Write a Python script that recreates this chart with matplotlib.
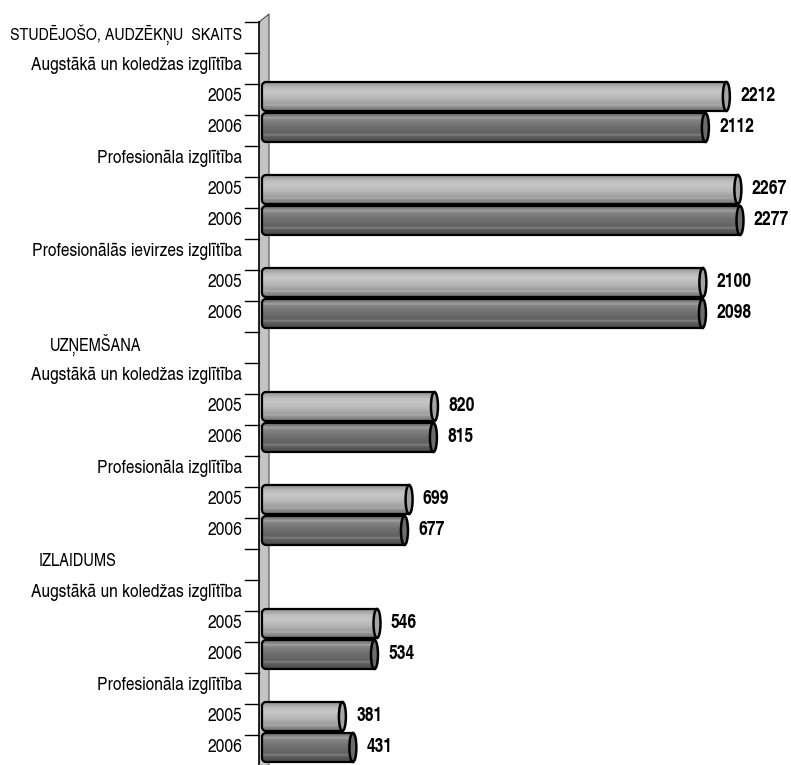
import numpy as np
import matplotlib.pyplot as plt
from matplotlib.patches import Polygon, Ellipse
from matplotlib.lines import Line2D
from matplotlib import transforms

# row labels (top to bottom) and values (None = header row without bar)
labels = ["STUDĒJOŠO, AUDZĒKŅU  SKAITS",
          "Augstākā un koledžas izglītība", "2005", "2006",
          "Profesionāla izglītība", "2005", "2006",
          "Profesionālās ievirzes izglītība", "2005", "2006",
          "UZŅEMŠANA",
          "Augstākā un koledžas izglītība", "2005", "2006",
          "Profesionāla izglītība", "2005", "2006",
          "IZLAIDUMS",
          "Augstākā un koledžas izglītība", "2005", "2006",
          "Profesionāla izglītība", "2005", "2006"]
values = [None,
          None, 2212, 2112,
          None, 2267, 2277,
          None, 2100, 2098,
          None,
          None, 820, 815,
          None, 699, 677,
          None,
          None, 546, 534,
          None, 381, 431]
# section headers: row -> left pixel position of the text
section_left = {10: 50, 17: 39}

FONT = ['TeX Gyre Heros Cn', 'DejaVu Sans']

W, H = 791, 765
fig = plt.figure(figsize=(W / 100, H / 100), dpi=100)
ax = fig.add_axes([259 / W, 0, (W - 259) / W, (765 - 22) / H])
ax.set_facecolor('none')
ax.axis('off')

ux = 1 / 0.2097          # data-x units per pixel
uy = 1 / 31              # rows per pixel


def grad(stops, n=80):
    pos = np.array([s[0] for s in stops])
    g = np.array([s[1] for s in stops])
    col = np.interp(np.linspace(0, 1, n), pos, g)
    return np.repeat(col[:, None, None], 3, axis=2) * np.ones((n, 2, 3))


light = grad([(0, .56), (0.08, .64), (0.2, .74), (0.35, .78), (0.55, .72),
              (0.75, .62), (0.8, .68), (0.84, .58), (1, .44)])
dark = grad([(0, .44), (0.1, .52), (0.16, .64), (0.22, .52), (0.45, .44),
             (0.7, .38), (0.76, .52), (0.8, .38), (1, .28)])

hh = 29 * uy
rx, ry = 4 * ux, 4 * uy
cw = 3.5 * ux
x0 = -4 * ux

for i, (lab, v) in enumerate(zip(labels, values)):
    if v is None:
        continue
    img, face = (light, '#a4a4a4') if lab == '2005' else (dark, '#6c6c6c')
    top, bot = i - hh / 2, i + hh / 2
    xc = v - cw
    pts = [(xc, top), (xc, bot)]
    for a in np.linspace(np.pi / 2, np.pi, 10):
        pts.append((x0 + rx + rx * np.cos(a), bot - ry + ry * np.sin(a)))
    for a in np.linspace(np.pi, 1.5 * np.pi, 10):
        pts.append((x0 + rx + rx * np.cos(a), top + ry + ry * np.sin(a)))
    body = Polygon(pts, closed=True, transform=ax.transData)
    im = ax.imshow(img, extent=(x0, xc, bot, top), aspect='auto',
                   interpolation='bilinear', zorder=2)
    im.set_clip_path(body)
    ax.add_patch(Polygon(pts, closed=True, fill=False, edgecolor='black',
                         lw=1.6, zorder=3))
    ax.add_patch(Ellipse((xc, i), 2 * cw, hh, facecolor=face,
                         edgecolor='black', lw=1.8, zorder=4))
    ax.annotate(str(v), (v, i), xytext=(7.5, 0), textcoords='offset points',
                ha='left', va='center', fontsize=13.8, fontweight='bold',
                family=FONT, color='black')

ax.set_xlim(-7 * ux, (W - 266) * ux)
ax.set_ylim(23.565, -0.403)

# wall of the category axis
ff = lambda x, y: (x / W, 1 - y / H)
fig.add_artist(Polygon([ff(259, 22), ff(269, 14), ff(269, 766), ff(259, 766)],
                       closed=True, transform=fig.transFigure,
                       facecolor='#c4c4c4', edgecolor='none', zorder=-1))
fig.add_artist(Line2D([259 / W, 269 / W, 269 / W], [1 - 22 / H, 1 - 14 / H, 0],
                      transform=fig.transFigure, color='#505050', lw=0.8,
                      zorder=-1))
fig.add_artist(Line2D([259 / W, 259 / W], [1 - 22 / H, 0],
                      transform=fig.transFigure, color='black', lw=1.2,
                      zorder=-1))

# ticks and labels
tr = transforms.blended_transform_factory(fig.transFigure, ax.transData)
for k in range(len(labels) + 1):
    ax.add_line(Line2D([245 / W, 259 / W], [k - 0.403, k - 0.403],
                       transform=tr, color='black', lw=1.0, clip_on=False))

for i, lab in enumerate(labels):
    if i in section_left:
        ax.text(section_left[i] / W, i, lab, transform=tr, ha='left',
                va='center', fontsize=12.8, family=FONT, clip_on=False)
    elif i == 0:
        ax.text(242 / W, i, lab, transform=tr, ha='right', va='center',
                fontsize=12.5, family=FONT, clip_on=False)
    else:
        ax.text(242 / W, i, lab, transform=tr, ha='right', va='center',
                fontsize=13.7, family=FONT, clip_on=False)

fig.savefig('out.png', dpi=100)
